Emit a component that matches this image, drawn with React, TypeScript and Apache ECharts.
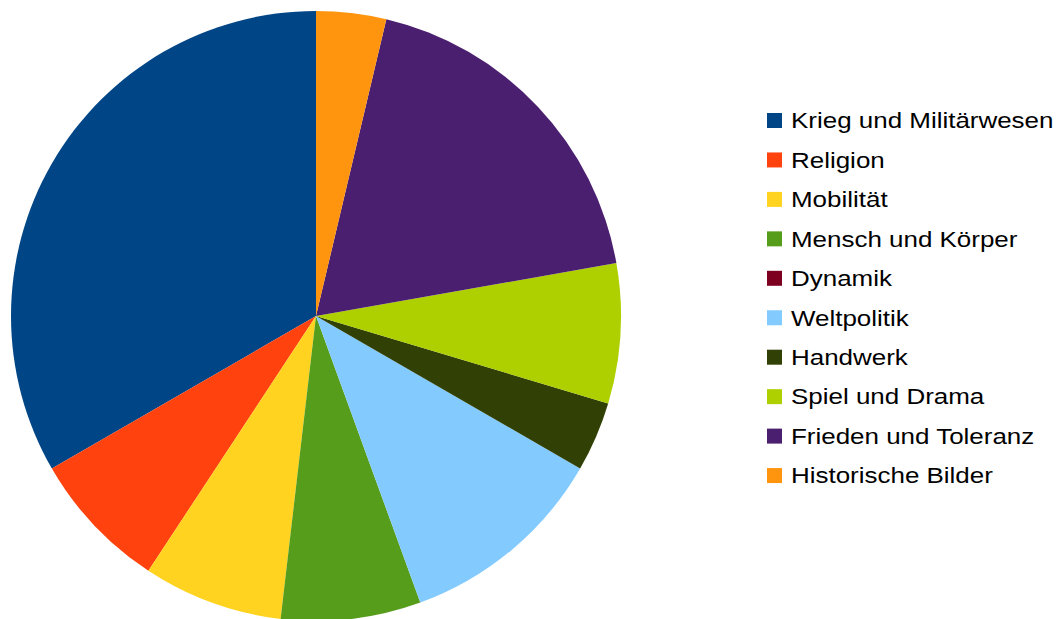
import React, { useEffect, useRef } from "react";
import * as echarts from "echarts";

const categories = [
  "Krieg und Militärwesen",
  "Religion",
  "Mobilität",
  "Mensch und Körper",
  "Dynamik",
  "Weltpolitik",
  "Handwerk",
  "Spiel und Drama",
  "Frieden und Toleranz",
  "Historische Bilder",
];
const values = [9, 2, 2, 2, 0, 3, 1, 2, 5, 1];
const colors = [
  "#004586",
  "#ff420e",
  "#ffd320",
  "#579d1c",
  "#7e0021",
  "#83caff",
  "#314004",
  "#aecf00",
  "#4b1f6f",
  "#ff950e",
];

export default function App() {
  const ref = useRef<HTMLDivElement>(null);
  useEffect(() => {
    if (!ref.current) return;
    const chart = echarts.init(ref.current, undefined, { renderer: "svg" });
    const legendTop = 113;
    const step = 39.45;
    const legendItems = categories.map((name, i) => ({
      type: "group",
      x: 767,
      y: legendTop + step * i,
      children: [
        {
          type: "rect",
          shape: { x: 0, y: 0, width: 15, height: 15 },
          style: { fill: colors[i] },
        },
        {
          type: "text",
          x: 24,
          y: 7.5,
          scaleX: 1.18,
          style: {
            text: name,
            x: 0,
            y: 0,
            fill: "#000",
            font: '22px "Liberation Sans", Arial, sans-serif',
            textVerticalAlign: "middle",
            textAlign: "left",
          },
        },
      ],
    }));
    chart.setOption({
      animation: false,
      color: colors,
      graphic: legendItems,
      series: [
        {
          type: "pie",
          center: [316, 316],
          radius: 305,
          startAngle: 90,
          clockwise: false,
          label: { show: false },
          labelLine: { show: false },
          itemStyle: { borderWidth: 0 },
          emphasis: { disabled: true },
          data: categories.map((name, i) => ({ name, value: values[i] })),
        },
      ],
    });
    return () => chart.dispose();
  }, []);
  return (
    <div
      ref={ref}
      style={{ position: "fixed", left: 0, top: 0, width: 1060, height: 619, background: "#fff" }}
    />
  );
}
